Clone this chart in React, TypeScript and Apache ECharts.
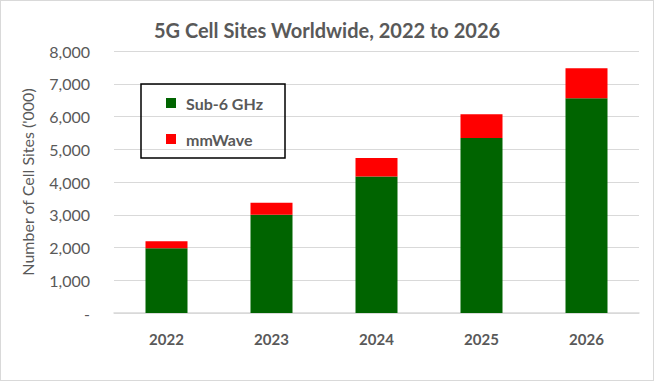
import React, { useEffect, useRef } from "react";
import * as echarts from "echarts";

const years = ["2022", "2023", "2024", "2025", "2026"];
const sub6 = [1980, 3000, 4170, 5340, 6560];
const mmWave = [210, 370, 560, 730, 910];
const yTicks = { min: 0, max: 8000, interval: 1000 };

const FONT = "Lato, 'Open Sans', sans-serif";
const GREY = "#595959";

export default function App() {
  const ref = useRef<HTMLDivElement>(null);
  useEffect(() => {
    if (!ref.current) return;
    const chart = echarts.init(ref.current, null, { renderer: "svg" });
    chart.setOption({
      animation: false,
      backgroundColor: "#fff",
      title: {
        text: "5G Cell Sites Worldwide, 2022 to 2026",
        left: "center",
        top: 14,
        textStyle: { fontFamily: FONT, fontSize: 20, fontWeight: "bold", color: GREY },
      },
      legend: {
        show: true,
        left: 140,
        top: 83,
        orient: "vertical",
        padding: [11, 22, 11, 25],
        itemGap: 20,
        itemWidth: 10,
        itemHeight: 10,
        icon: "rect",
        borderColor: "#000",
        borderWidth: 1.5,
        textStyle: { fontFamily: FONT, fontSize: 16, fontWeight: "bold", color: GREY, padding: [0, 0, 0, 5] },
        data: ["Sub-6 GHz", "mmWave"],
      },
      grid: { left: 113, right: 14, top: 50, bottom: 67, containLabel: false },
      xAxis: {
        type: "category",
        data: years,
        axisLine: { lineStyle: { color: "#d9d9d9", width: 1.5 } },
        axisTick: { show: false },
        axisLabel: { fontFamily: FONT, fontSize: 15, fontWeight: "bold", color: GREY, margin: 18 },
      },
      yAxis: {
        type: "value",
        min: yTicks.min,
        max: yTicks.max,
        interval: yTicks.interval,
        name: "Number of Cell Sites ('000)",
        nameLocation: "middle",
        nameGap: 79,
        nameTextStyle: { fontFamily: FONT, fontSize: 16, color: GREY },
        axisLine: { show: false },
        axisTick: { show: false },
        splitLine: { lineStyle: { color: "#d9d9d9", width: 1.2 } },
        axisLabel: {
          fontFamily: FONT,
          fontSize: 16,
          color: GREY,
          margin: 24,
          formatter: (v: number) => (v === 0 ? "-" : v.toLocaleString("en-US")),
        },
      },
      series: [
        {
          name: "Sub-6 GHz",
          type: "bar",
          stack: "total",
          data: sub6,
          barWidth: "40%",
          itemStyle: { color: "#006400" },
        },
        {
          name: "mmWave",
          type: "bar",
          stack: "total",
          data: mmWave,
          barWidth: "40%",
          itemStyle: { color: "#ff0000" },
        },
      ],
    });
    return () => chart.dispose();
  }, []);
  return (
    <div
      style={{
        position: "fixed",
        left: 0,
        top: 0,
        width: 654,
        height: 381,
        boxSizing: "border-box",
        border: "1px solid #d9d9d9",
        background: "#fff",
      }}
    >
      <div ref={ref} style={{ width: 652, height: 379 }} />
    </div>
  );
}
